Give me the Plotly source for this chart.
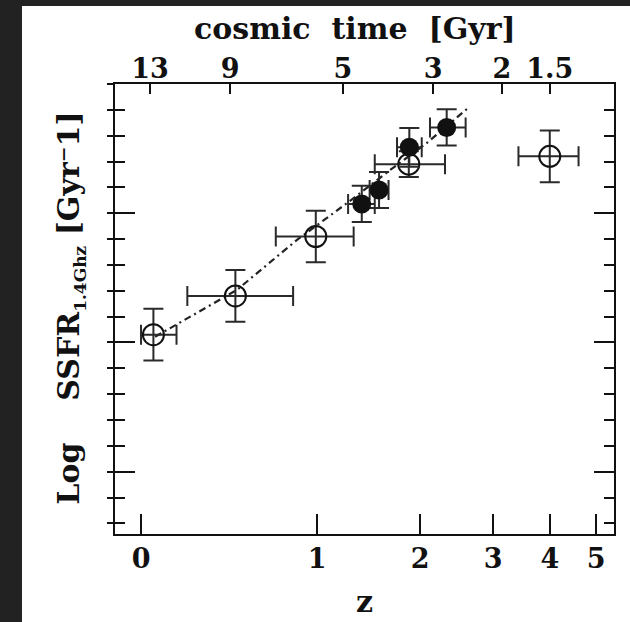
import plotly.graph_objects as go
import numpy as np

# ---------------- data ----------------
# open circles
z_open = [0.05, 0.45, 0.99, 1.87, 4.0]
y_open = [-0.97, -0.82, -0.59, -0.31, -0.28]
z_open_lo = [0.0, 0.20, 0.70, 1.51, 3.42]
z_open_hi = [0.15, 0.82, 1.31, 2.31, 4.60]
y_open_err = [0.10, 0.10, 0.10, 0.05, 0.10]

# filled circles
z_fill = [1.385, 1.553, 1.876, 2.332]
y_fill = [-0.464, -0.410, -0.245, -0.168]
z_fill_lo = [1.26, 1.46, 1.74, 2.12]
z_fill_hi = [1.51, 1.65, 2.02, 2.59]
y_fill_err = [0.07, 0.07, 0.075, 0.07]

# dashed fit line
line_z = [0.057, 0.458, 0.846, 1.247, 1.666, 2.079, 2.628]
line_y = [-0.978, -0.797, -0.604, -0.462, -0.333, -0.229, -0.092]

# axes ticks
z_ticks = [0, 1, 2, 3, 4, 5]
z_tick_labels = ["0", "1", "2", "3", "4", "5"]
time_tick_z = [0.036, 0.42, 1.215, 2.16, 3.14, 4.0]
time_tick_labels = ["13", "9", "5", "3", "2", "1.5"]

y_range = [-1.741, 0.0]
x_log_range = [-0.0445, 0.8088]

# ---------------- figure ----------------
INK = "#111111"
BAR = "#2a2a2a"
FONT = dict(family="DejaVu Serif", size=27, color=INK, weight="bold")
TFONT = dict(family="DejaVu Serif", size=30, color=INK, weight="bold")
NB = "\u00a0"


def opz(v):
    return np.asarray(v, dtype=float) + 1.0


fig = go.Figure()

fig.add_trace(go.Scatter(
    x=opz(line_z), y=line_y, mode="lines",
    line=dict(color="#222222", width=2.2, dash="7px,4px,2px,4px"),
    showlegend=False, hoverinfo="skip"))

xo = opz(z_open)
fig.add_trace(go.Scatter(
    x=xo, y=y_open, mode="markers",
    marker=dict(symbol="circle-open", size=21, color=INK, line=dict(width=2, color=INK)),
    error_x=dict(type="data", symmetric=False,
                 array=opz(z_open_hi) - xo, arrayminus=xo - opz(z_open_lo),
                 color=BAR, thickness=2, width=10),
    error_y=dict(type="data", array=y_open_err, color=BAR, thickness=2, width=10),
    showlegend=False))

xf = opz(z_fill)
fig.add_trace(go.Scatter(
    x=xf, y=y_fill, mode="markers",
    marker=dict(symbol="circle", size=19, color=INK),
    error_x=dict(type="data", symmetric=False,
                 array=opz(z_fill_hi) - xf, arrayminus=xf - opz(z_fill_lo),
                 color=BAR, thickness=2, width=10),
    error_y=dict(type="data", array=y_fill_err, color=BAR, thickness=2, width=10),
    showlegend=False))

# invisible copies to activate the extra axes (top time axis, outer left ticks)
fig.add_trace(go.Scatter(x=xf, y=y_fill, xaxis="x2", yaxis="y", mode="markers",
                         marker=dict(opacity=0), showlegend=False, hoverinfo="skip"))
fig.add_trace(go.Scatter(x=xf, y=y_fill, xaxis="x", yaxis="y3", mode="markers",
                         marker=dict(opacity=0), showlegend=False, hoverinfo="skip"))

ytitle = (f"Log{NB*4}SSFR<sub><span style='font-size:17px'>1.4Ghz</span></sub>"
          f"{NB}[Gyr⁻1]")

fig.update_layout(
    width=630, height=622,
    margin=dict(l=115, r=16, t=84, b=88),
    paper_bgcolor="white", plot_bgcolor="white",
    showlegend=False,
    xaxis=dict(
        type="log", range=x_log_range,
        tickmode="array", tickvals=opz(z_ticks), ticktext=z_tick_labels,
        ticks="inside", ticklen=20, tickwidth=2, tickcolor=INK,
        showline=True, linewidth=2, linecolor=INK, mirror=True,
        showgrid=False, zeroline=False, tickfont=FONT),
    xaxis2=dict(
        type="log", range=x_log_range, overlaying="x", side="top", anchor="y",
        tickmode="array", tickvals=opz(time_tick_z), ticktext=time_tick_labels,
        ticks="inside", ticklen=10, tickwidth=2, tickcolor=INK,
        showline=False, showgrid=False, zeroline=False, tickfont=FONT),
    yaxis=dict(
        range=y_range, tickmode="linear", tick0=0, dtick=0.5,
        ticks="inside", ticklen=20, tickwidth=2, tickcolor=INK,
        minor=dict(ticks="inside", ticklen=10, tickwidth=2, tickcolor=INK,
                   tickmode="linear", tick0=0, dtick=0.1),
        showline=True, linewidth=2, linecolor=INK, mirror="ticks",
        showticklabels=False, showgrid=False, zeroline=False),
    yaxis3=dict(
        range=y_range, overlaying="y", side="left", anchor="x",
        tickmode="linear", tick0=0, dtick=0.1,
        ticks="outside", ticklen=7, tickwidth=2, tickcolor=INK,
        showline=False, showticklabels=False, showgrid=False, zeroline=False),
    annotations=[
        dict(text=f"cosmic{NB*2}time{NB*2}[Gyr]", xref="paper", yref="paper",
             x=0.480, y=1.1244, xanchor="center", yanchor="middle",
             showarrow=False, font=TFONT),
        dict(text="z", xref="paper", yref="paper",
             x=0.501, y=-0.150, xanchor="center", yanchor="middle",
             showarrow=False, font=TFONT),
        dict(text=ytitle, xref="paper", yref="paper",
             x=-0.0902, y=0.503, xanchor="center", yanchor="middle", textangle=-90,
             showarrow=False, font=TFONT),
    ],
    shapes=[
        dict(type="rect", xref="paper", yref="paper", x0=-0.26, x1=-0.1864,
             y0=-0.25, y1=1.25, fillcolor="#222222", line=dict(width=0)),
        dict(type="rect", xref="paper", yref="paper", x0=-0.26, x1=1.1,
             y0=1.1733, y1=1.25, fillcolor="#222222", line=dict(width=0)),
    ],
)

fig.write_html("out.html")
